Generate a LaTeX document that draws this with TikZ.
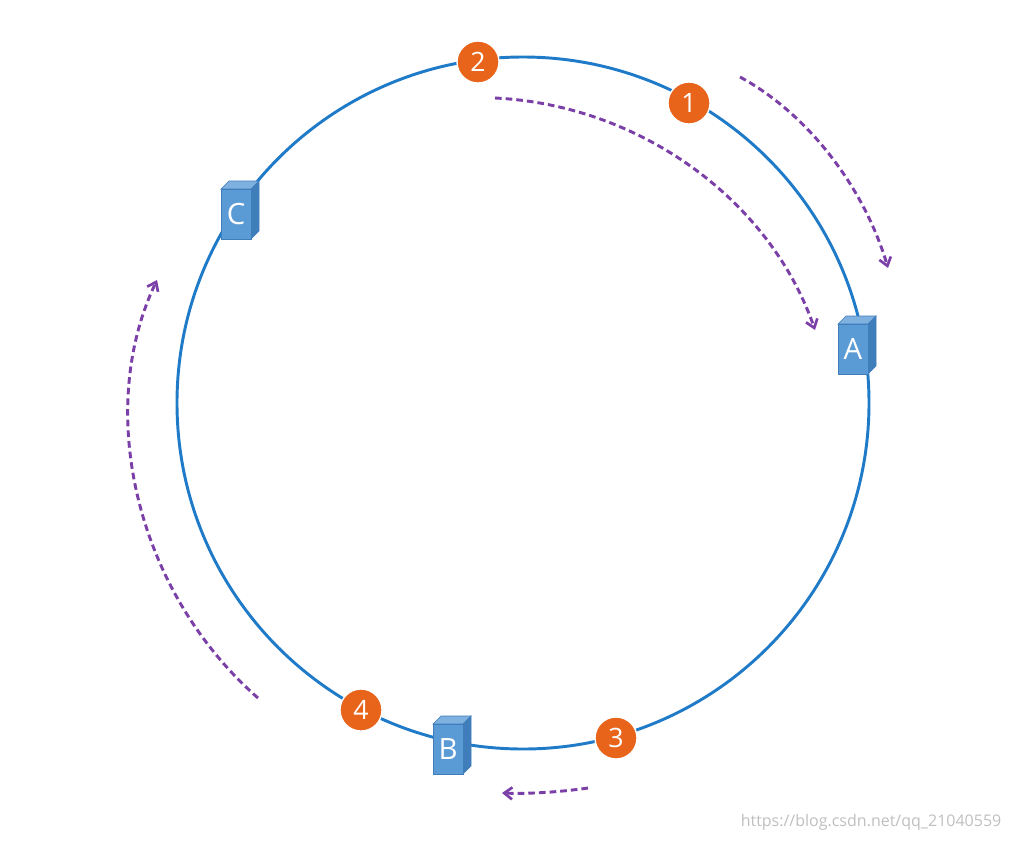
\documentclass[tikz,border=0pt]{standalone}
\usepackage{fontspec}
\setmainfont{Open Sans}
\usetikzlibrary{arrows.meta}
\definecolor{ring}{HTML}{1F7BC8}
\definecolor{org}{HTML}{E8641B}
\definecolor{pur}{HTML}{7B3FA8}
\definecolor{srvf}{HTML}{5B9BD5}
\definecolor{srvt}{HTML}{7FB1E0}
\definecolor{srvs}{HTML}{3F7DBB}
\tikzset{
 key/.style={circle,fill=org,draw=white,line width=1pt,minimum size=42*0.75pt,inner sep=0,text=white,font=\fontsize{20}{20}\selectfont},
 mv/.style={pur,line width=2.2pt,dash pattern=on 5pt off 3pt,-{Straight Barb[length=6pt,width=9pt,line width=2pt]}},
}
\newcommand{\server}[3]{% name, x, y (center of front face)
 \fill[srvt,draw=srvs,line width=0.5pt] (#2-15,#3-25) -- (#2-7,#3-33) -- (#2+23,#3-33) -- (#2+15,#3-25) -- cycle;
 \fill[srvs,draw=srvs,line width=0.5pt] (#2+15,#3-25) -- (#2+23,#3-33) -- (#2+23,#3+17) -- (#2+15,#3+25) -- cycle;
 \node[fill=srvf,draw=srvs,line width=0.5pt,minimum width=30*0.75pt,minimum height=50*0.75pt,inner sep=0,text=white,font=\fontsize{22}{22}\selectfont] (#1) at (#2,#3) {#1};
}
\begin{document}
\begin{tikzpicture}[x=0.75pt,y=-0.75pt]
\useasboundingbox (0,0) rectangle (1016,840);
\draw[ring,line width=2.2pt] (523,403) circle (346);
\server{C}{236}{214}
\server{A}{853}{349}
\server{B}{448}{749}
\node[key] (k1) at (689,103) {1};
\node[key] (k2) at (478,62) {2};
\node[key] (k3) at (616,738) {3};
\node[key] (k4) at (361,710) {4};
\coordinate (a1s) at (740,77); \coordinate (a1e) at (888,268);
\coordinate (a2s) at (495,98); \coordinate (a2e) at (815,330);
\coordinate (a3s) at (588,788); \coordinate (a3e) at (502,793);
\coordinate (a4s) at (258,698); \coordinate (a4e) at (157,280);
\draw[mv] (a1s) .. controls (810,115) and (865,190) .. (a1e);
\draw[mv] (a2s) .. controls (640,105) and (770,200) .. (a2e);
\draw[mv] (a3s) .. controls (560,792) and (530,794) .. (a3e);
\draw[mv] (a4s) .. controls (135,590) and (95,410) .. (a4e);
\node[text=black!25,font=\fontsize{12}{12}\selectfont,anchor=east] (wm) at (1006,822) {https://blog.csdn.net/qq\_21040559};
\end{tikzpicture}
\end{document}
